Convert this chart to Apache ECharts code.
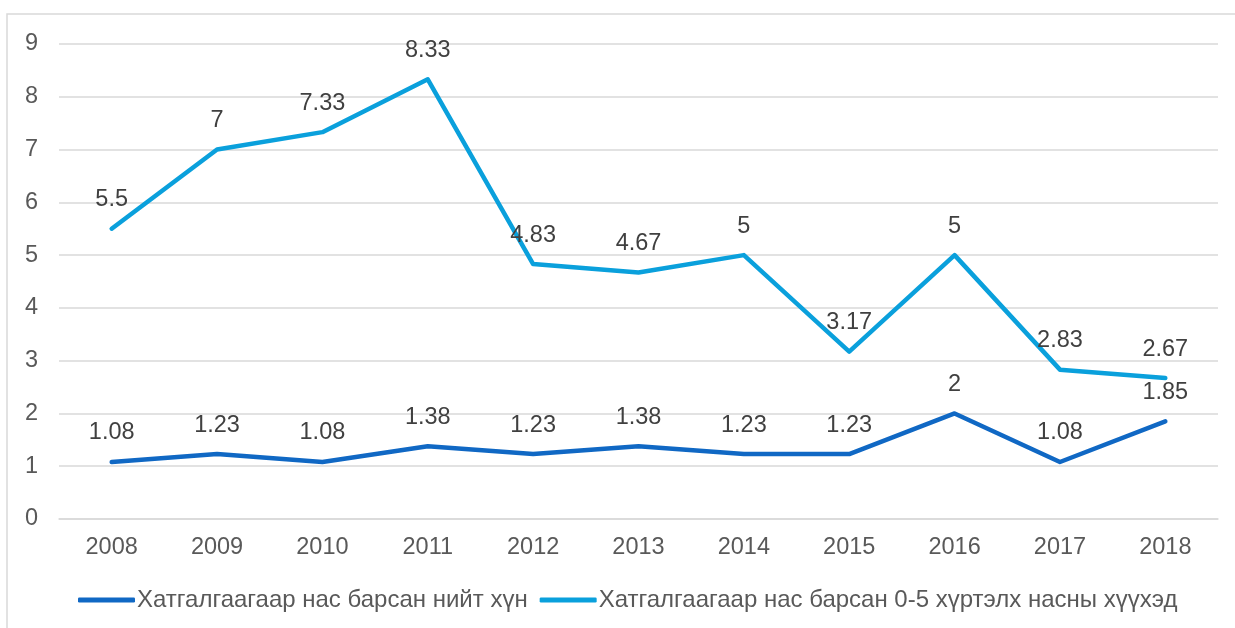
<!DOCTYPE html>
<html>
<head>
<meta charset="utf-8">
<script src="https://cdn.jsdelivr.net/npm/echarts@6/dist/echarts.min.js"></script>
<style>
  html, body { margin: 0; padding: 0; background: #ffffff; }
  #chart { width: 1235px; height: 628px; }
</style>
</head>
<body>
<div id="chart"></div>
<script>
// Years on the category axis
const years = ['2008', '2009', '2010', '2011', '2012', '2013', '2014', '2015', '2016', '2017', '2018'];

// Series names
const nameTotal = 'Хатгалгаагаар нас барсан нийт хүн';
const nameChildren = 'Хатгалгаагаар нас барсан 0-5 хүртэлх насны хүүхэд';

// Values per year
const totalDeaths = [1.08, 1.23, 1.08, 1.38, 1.23, 1.38, 1.23, 1.23, 2, 1.08, 1.85];
const childDeaths = [5.5, 7, 7.33, 8.33, 4.83, 4.67, 5, 3.17, 5, 2.83, 2.67];

const chart = echarts.init(document.getElementById('chart'), null, { renderer: 'canvas' });

const fontFamily = 'Arial, "Liberation Sans", sans-serif';

function lineSeries(name, data, color) {
  return {
    name: name,
    type: 'line',
    data: data,
    symbol: 'circle',
    symbolSize: 0.01,
    showSymbol: true,
    lineStyle: { width: 4.5, color: color, cap: 'round', join: 'round' },
    itemStyle: { color: color },
    label: {
      show: true,
      position: 'top',
      distance: 17,
      fontSize: 23.5,
      color: '#404040',
      fontFamily: fontFamily,
      formatter: p => String(p.value)
    },
    emphasis: { disabled: true },
    animation: false
  };
}

chart.setOption({
  backgroundColor: '#ffffff',
  animation: false,
  graphic: [{
    type: 'rect',
    shape: { x: 7, y: 14, width: 1240, height: 630 },
    style: { fill: 'none', stroke: '#d9d9d9', lineWidth: 1.5 },
    silent: true,
    z: -1
  }],
  grid: { left: 59, right: 17, top: 44, bottom: 109, containLabel: false },
  legend: {
    top: 588,
    left: 78,
    padding: 0,
    itemWidth: 57,
    itemHeight: 5,
    itemGap: 12,
    icon: 'roundRect',
    textStyle: { fontSize: 24, color: '#595959', fontFamily: fontFamily, padding: [0, 0, 0, -3] },
    data: [nameTotal, nameChildren]
  },
  xAxis: {
    type: 'category',
    data: years,
    boundaryGap: true,
    axisLine: { show: true, lineStyle: { color: '#d9d9d9', width: 1.5 } },
    axisTick: { show: false },
    axisLabel: { fontSize: 23.5, color: '#595959', fontFamily: fontFamily, margin: 17 }
  },
  yAxis: {
    type: 'value',
    min: 0,
    max: 9,
    interval: 1,
    axisLine: { show: false },
    axisTick: { show: false },
    splitLine: { lineStyle: { color: '#d9d9d9', width: 1.5 } },
    axisLabel: { fontSize: 23.5, color: '#595959', fontFamily: fontFamily, margin: 21 }
  },
  series: [
    lineSeries(nameTotal, totalDeaths, '#1068c4'),
    lineSeries(nameChildren, childDeaths, '#0aa0dc')
  ]
});
</script>
</body>
</html>
